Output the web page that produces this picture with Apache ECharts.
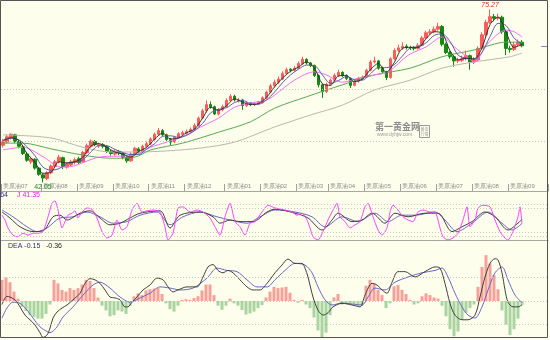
<!DOCTYPE html>
<html><head><meta charset="utf-8">
<script src="https://cdn.jsdelivr.net/npm/echarts@6/dist/echarts.min.js"></script>
<style>html,body{margin:0;padding:0;background:#fefeec;}#c{width:550px;height:340px;}</style>
</head><body><div id="c"></div>
<script>
// ---------- DATA ----------
const monthLabels = ['美原油07','美原油08','美原油09','美原油10','美原油11','美原油12','美原油01','美原油02','美原油03','美原油04','美原油05','美原油06','美原油07','美原油08','美原油09'];
const monthStartIdx = [0,10,19,28,37,46,56,65,74,82,91,100,109,118,127];
// [open, close, low, high]
const candles = [
[49.2,49.8,48.8,50.4],[49.8,50.8,49.5,51.2],[50.7,51.3,50.3,51.5],[51.2,49.9,49.6,51.4],[49.9,49.0,48.6,50.3],
[48.9,47.6,47.3,49.2],[47.5,46.3,46.0,47.8],[46.0,46.6,45.6,47.0],[46.5,44.8,44.5,46.7],[44.8,43.6,43.3,45.0],
[43.5,42.9,42.05,43.8],[42.8,43.9,42.5,44.2],[43.9,45.2,43.6,45.5],[45.1,46.0,44.8,46.4],[46.0,46.9,45.7,47.3],
[46.8,45.1,44.6,47.0],[45.0,45.5,44.7,45.9],[45.4,46.0,45.1,46.4],[45.9,46.4,45.5,46.8],[46.6,45.9,45.6,47.0],
[46.0,47.8,45.8,48.1],[47.8,49.1,47.5,49.5],[49.0,50.0,48.7,50.3],[49.9,49.3,49.0,50.2],[49.1,49.3,48.7,49.7],
[49.3,49.0,48.6,49.6],[48.9,48.0,47.7,49.2],[48.0,47.6,47.2,48.3],[47.5,48.0,47.2,48.4],[48.0,47.7,47.3,48.3],
[47.6,46.9,46.5,47.9],[46.8,46.2,45.8,47.1],[46.2,47.5,46.0,47.8],[47.5,48.6,47.3,48.9],[48.5,47.9,47.6,48.8],
[47.9,49.0,47.7,49.3],[49.0,49.5,48.7,49.9],[49.5,50.4,49.2,50.7],[50.3,51.3,50.1,51.6],[51.3,52.0,51.0,52.5],
[52.0,51.2,50.9,52.3],[51.2,50.3,50.0,51.4],[50.3,49.8,49.2,50.6],[49.8,50.7,49.6,51.0],[50.7,51.4,50.4,51.7],
[51.3,51.6,51.0,52.0],[51.5,51.8,51.2,52.2],[51.8,52.2,51.5,52.6],[52.2,53.0,52.0,53.4],[53.0,54.4,52.8,54.7],
[54.4,55.8,54.2,56.2],[55.8,57.0,55.5,57.8],[57.0,56.6,56.2,57.6],[56.6,55.2,55.0,56.8],[55.2,56.0,54.9,56.3],
[56.0,56.6,55.7,57.0],[56.6,57.8,56.4,58.2],[57.8,58.6,57.5,59.0],[58.6,57.9,57.6,58.9],[57.8,57.9,57.4,58.3],
[57.9,56.8,56.0,58.1],[56.8,57.3,56.5,57.7],[57.3,57.0,56.7,57.5],[57.0,57.1,56.7,57.4],[57.1,57.4,56.9,57.7],
[57.4,58.3,57.2,58.6],[58.3,59.4,58.1,59.7],[59.4,60.6,59.2,61.0],[60.6,61.3,60.3,61.8],[61.3,61.9,61.0,62.4],
[61.9,63.0,61.7,63.4],[63.0,63.7,62.7,64.1],[63.8,63.6,63.2,64.0],[63.6,64.0,63.3,64.4],[64.0,64.9,63.8,65.3],
[64.9,65.7,64.6,66.2],[65.7,65.0,64.7,65.9],[65.0,64.5,64.2,65.2],[64.5,62.6,62.3,64.7],[62.6,60.8,60.3,62.8],
[60.8,59.5,58.3,61.0],[59.5,60.9,59.2,61.2],[60.9,61.7,60.6,62.0],[61.7,62.6,61.4,63.0],[62.6,63.2,62.3,63.7],
[63.2,62.6,62.3,63.4],[62.6,62.0,61.7,62.8],[62.0,60.7,60.2,62.2],[60.7,61.5,60.5,61.8],[61.5,62.0,61.2,62.3],
[62.0,62.3,61.7,62.6],[62.3,63.6,62.1,63.9],[63.6,65.2,63.4,65.6],[65.2,65.4,64.9,66.2],[65.4,64.0,63.7,65.6],
[64.0,63.3,63.0,64.3],[63.3,62.2,61.7,63.5],[62.2,65.8,62.0,66.1],[65.8,67.4,65.5,67.8],[67.4,67.9,67.1,68.5],
[67.9,68.2,67.5,69.0],[68.2,68.0,67.6,68.6],[68.0,67.9,67.5,68.3],[67.9,67.8,67.4,68.2],[67.8,68.4,67.6,68.8],
[68.4,69.8,68.2,70.2],[69.8,70.8,69.5,71.2],[70.8,71.0,70.4,71.5],[71.0,71.5,70.7,72.0],[71.5,72.0,71.2,72.7],
[72.0,68.6,68.2,72.3],[68.6,67.0,66.7,68.9],[67.0,66.2,65.8,67.3],[66.2,65.4,64.3,66.5],[65.4,65.5,65.0,66.0],
[65.5,65.8,65.2,66.4],[65.8,66.4,65.5,67.4],[66.4,65.2,63.7,66.6],[65.2,65.6,64.8,66.1],[65.6,67.8,65.4,68.2],
[67.8,70.4,67.5,70.9],[70.4,72.8,70.1,73.3],[72.8,73.9,72.5,75.27],[73.9,73.6,73.0,74.4],[73.6,73.8,73.2,74.5],
[73.8,71.0,70.6,74.1],[71.0,67.8,66.5,71.3],[67.8,67.6,67.0,68.3],[67.6,68.5,67.3,69.0],[68.5,69.0,68.1,69.5],
[69.0,68.3,68.0,69.4]
];
// moving averages: [candle index, price]
const ma5 = [[0,50.0],[2,50.6],[4,50.1],[6,47.6],[8,45.9],[10,43.8],[12,44.0],[14,46.0],[16,45.8],[18,46.0],[20,46.9],[22,49.0],[24,49.5],[26,48.8],[28,47.9],[30,47.5],[32,46.9],[34,48.0],[36,48.8],[38,50.4],[40,51.5],[42,50.4],[44,50.6],[46,51.6],[48,52.3],[50,54.4],[52,56.5],[54,55.9],[56,56.8],[58,58.1],[60,57.5],[62,57.0],[64,57.2],[66,58.4],[68,60.4],[70,62.1],[72,63.4],[74,64.2],[76,65.2],[78,64.0],[80,61.0],[82,60.7],[84,62.5],[86,62.6],[88,61.4],[90,61.9],[92,63.7],[94,64.9],[96,63.2],[98,65.1],[100,67.8],[102,68.0],[104,68.0],[106,69.7],[108,71.0],[110,70.7],[112,67.3],[114,65.6],[116,65.9],[118,65.8],[120,68.0],[122,72.4],[124,73.8],[126,70.9],[128,68.0],[130,68.6]];
const ma10 = [[0,50.2],[2,50.6],[4,50.2],[6,48.9],[8,47.2],[10,45.0],[12,44.4],[14,44.7],[16,45.7],[18,46.0],[20,46.4],[22,47.9],[24,49.1],[26,49.1],[28,48.4],[30,47.8],[32,47.4],[34,47.4],[36,48.5],[38,49.5],[40,50.9],[42,51.0],[44,50.7],[46,51.1],[48,52.0],[50,53.4],[52,55.4],[54,56.1],[56,56.4],[58,57.4],[60,57.8],[62,57.2],[64,57.1],[66,57.9],[68,59.4],[70,61.2],[72,62.7],[74,63.8],[76,64.6],[78,64.5],[80,62.7],[82,61.1],[84,61.6],[86,62.4],[88,61.8],[90,61.7],[92,62.9],[94,64.1],[96,64.1],[98,64.7],[100,66.3],[102,67.9],[104,68.1],[106,68.9],[108,70.3],[110,70.6],[112,69.1],[114,66.5],[116,65.9],[118,65.7],[120,67.1],[122,70.1],[124,72.6],[126,72.2],[128,69.8],[130,68.6]];
const ma20 = [[0,48.3],[5,48.8],[10,47.0],[14.5,45.0],[16,45.0],[24,46.9],[33,47.3],[37,48.8],[41,49.8],[45,50.8],[49.5,52.7],[54,54.4],[58,56.5],[62,57.3],[66,57.9],[68,58.8],[73,61.7],[78,63.3],[81,62.7],[85,61.3],[89,62.1],[93,62.7],[96.5,63.3],[101.5,66.5],[106,68.1],[110,70.0],[113,68.1],[116.5,66.0],[118,65.2],[121.5,68.8],[126,71.3],[128,71.0],[130,70.0]];
const ma60 = [[0,49.6],[5,49.6],[12,48.5],[20,47.3],[27,46.7],[33,46.9],[37,48.3],[45,49.6],[54,51.7],[62,53.7],[68,56.3],[76,58.5],[85,60.8],[93,62.7],[102,64.0],[110,66.2],[118,67.5],[126,69.0],[130,69.0]];
const ma120 = [[0,51.2],[12,50.6],[20,48.8],[27,47.9],[33,47.9],[41,48.1],[50,48.7],[58,49.8],[66,52.1],[68,52.7],[77,55.0],[85,56.9],[93,59.8],[102,61.7],[110,64.0],[118,65.2],[127,66.2],[130,66.9]];
// KDJ: [candle index, value]
const kLine = [[0,70],[2,55],[4.5,33],[7.75,21],[10.25,23],[12.75,58],[14.5,62],[16.25,50],[19.5,67],[22,73],[24.5,55],[27,38],[29.5,42],[32,55],[34.5,67],[39.5,73],[42,30],[44.5,62],[49.5,70],[52.75,58],[54.5,42],[57,50],[59.5,46],[62.75,46],[66.25,70],[68.25,77],[73.25,67],[76.5,55],[80,25],[82.5,50],[84,67],[87.5,46],[90,50],[92.5,67],[95.75,42],[98.25,67],[101.5,58],[105.75,67],[109,67],[112.5,21],[115,33],[117.5,46],[120.75,70],[123.25,58],[126.5,25],[129,42],[130,52]];
const dLine = [[0,75],[2.75,58],[6.25,33],[8.75,21],[11.25,30],[14.5,55],[17.75,58],[21.25,70],[24.5,58],[27.75,42],[31.25,46],[34.5,62],[38.75,70],[42,38],[45.25,58],[49.5,70],[53.75,58],[57,50],[61.25,42],[64.5,58],[68.25,75],[73.25,70],[77.5,58],[80.75,33],[85,58],[89,46],[93.25,67],[96.5,46],[100,62],[103.25,62],[108.25,70],[110.75,50],[113.75,21],[117.5,42],[121.5,70],[125,42],[127.5,25],[130,41.64]];
const jLine = [[0,62],[0.75,50],[1.5,30],[2.75,12],[4,8],[5.25,17],[6.5,12],[7.75,17],[9,17],[10.25,21],[11.5,58],[12.5,92],[13.25,98],[14,75],[15,30],[15.75,46],[16.5,62],[17.5,67],[18.25,73],[19,55],[20,70],[21.25,80],[22.5,77],[23.75,55],[25,21],[26.25,5],[27.5,12],[28.75,50],[30,25],[31.25,33],[32.5,75],[33.75,92],[35,70],[36.25,73],[37.75,75],[39.5,70],[40.75,33],[41.5,0],[42.75,17],[44,80],[45.25,83],[47,70],[48.75,75],[50.25,70],[52,55],[53.25,33],[54.5,12],[55.75,58],[57,92],[58.25,46],[59.5,33],[60.75,12],[62,42],[63.25,46],[65,70],[66.5,87],[68.25,80],[70.75,75],[72.5,70],[73.75,62],[75,67],[76.25,50],[77,30],[77.75,8],[79,0],[80.25,21],[81.5,50],[82.75,75],[83.75,92],[84.5,58],[85.75,46],[87,30],[88.25,38],[89.5,46],[90.75,83],[91.5,92],[92.75,58],[94,25],[95,12],[96.25,30],[97,70],[97.75,87],[99,75],[100.25,58],[101.5,50],[102.75,46],[104,70],[105.25,75],[107,70],[108.25,70],[109.5,30],[110.25,8],[111.5,0],[112.75,5],[114,17],[115.25,50],[116.25,83],[117,33],[118.25,50],[119,80],[120.25,87],[122,83],[123.25,50],[124.5,21],[125.75,5],[126.5,0],[127.75,21],[129,58],[129.5,83],[130,41.35]];
// MACD
const macdHist = [1.8,2.0,1.6,0.8,0.2,-0.5,-0.85,-1.2,-1.35,-1.5,-1.5,-1.1,-0.3,1.8,1.5,0.94,0.8,1.1,0.95,1.1,1.4,1.8,1.7,1.1,0.3,-0.4,-0.8,-1.3,-1.2,-0.8,-0.9,-1.1,-0.4,0.4,0.65,0.5,0.9,1.0,1.05,1.1,0.6,-0.2,-0.7,-0.9,-0.4,0.1,0.15,0.1,0.25,0.4,0.9,1.4,1.4,0.5,-0.4,-0.75,-0.4,0.2,-0.2,-0.4,-0.77,-1.15,-1.05,-0.9,-0.6,-0.35,0.3,0.8,1.2,1.1,1.15,1.2,0.7,0.1,-0.15,0.1,-0.3,-0.6,-1.4,-2.5,-3.1,-2.7,-1.2,0.3,0.6,-0.3,-0.2,-0.25,-0.3,-0.45,-0.4,1.3,1.8,1.5,0.95,0.5,-0.6,-0.2,1.25,1.35,0.95,0.6,0.1,-0.3,-0.2,0.4,0.65,0.5,0.3,0.2,-0.4,-1.3,-2.4,-3.0,-2.6,-1.6,-1.0,-0.6,-0.3,1.2,2.9,3.9,3.2,2.2,1.0,-0.8,-2.0,-2.9,-2.4,-1.5,-0.36];
const dif = [[0,-0.3],[1.25,0.4],[3.25,0.1],[4.5,-0.5],[5.75,-1.2],[7,-1.6],[8.25,-2.04],[9.5,-2.7],[10.25,-3.1],[11.25,-2.9],[12,-2.3],[12.75,-1.45],[13.75,-0.94],[15,-0.6],[16.25,-0.34],[17.75,0.1],[19.5,0.66],[20.75,1.5],[22,1.9],[23.25,1.8],[24.5,1.5],[25.75,0.94],[27,0.34],[28.25,0.26],[29.5,0.1],[30.75,-0.5],[31.5,-0.5],[32.5,-0.1],[33.75,0.34],[35.25,0.94],[37,1.36],[38.75,1.95],[40.25,1.8],[41.5,1.2],[42.75,0.77],[44,0.94],[46.25,1.2],[48.75,1.2],[50.25,2.04],[51.5,2.9],[52.75,3.1],[54,2.6],[55.25,2.4],[56.5,2.6],[57.75,2.4],[59.5,1.8],[61.25,1.2],[62.75,0.94],[64.5,0.94],[66.25,1.5],[68.25,2.4],[70,3.06],[71.5,3.57],[73.25,3.2],[75,3.2],[75.75,2.8],[76.5,2.04],[77.75,0.34],[79,-0.77],[80.25,-1.2],[81.5,-1.0],[82.75,-0.5],[85,-0.2],[87.5,-0.34],[89.5,-0.5],[90.75,0.5],[92.5,1.5],[93.75,1.36],[95,0.94],[96.25,0.66],[97.5,1.6],[99,2.5],[100.75,2.5],[103.25,2.04],[105.75,2.5],[108.25,2.9],[109.5,2.8],[110.75,1.5],[112,-0.2],[113.25,-1.2],[115,-1.6],[116.5,-1.6],[118.25,-1.2],[119.5,0.34],[120.75,2.04],[122,3.2],[123.25,3.6],[124,3.5],[125,2.4],[125.75,0.94],[126.5,-0.1],[127.75,-0.5],[129,-0.5],[130,-0.33]];
const dea = [[0,-1.45],[1.25,-0.6],[2.75,-0.1],[4.5,-0.2],[6.25,-0.77],[7.75,-1.45],[9.5,-2.2],[11.25,-2.6],[12,-2.7],[13.75,-2.2],[15.25,-1.36],[17.75,-0.5],[20.25,0.5],[22.75,1.36],[24.5,1.6],[27,1.1],[29.5,0.34],[32,-0.1],[34.5,0.26],[37,0.66],[39.5,1.2],[42,1.1],[44.5,0.94],[47.75,1.1],[51.25,1.95],[53.75,2.8],[56.25,2.6],[58.75,2.5],[61.25,1.8],[63.75,1.2],[66.25,1.2],[68.25,1.8],[70.75,2.6],[73.25,3.2],[75.75,3.06],[77.5,2.4],[79,1.2],[80.75,0.1],[82.5,-0.34],[85,-0.17],[87.5,-0.26],[90,-0.34],[91.5,0.34],[93.25,1.1],[95.75,0.94],[98.25,1.6],[101.5,2.04],[105,2.4],[108.25,2.6],[110,2.8],[111.5,2.04],[113.25,0.66],[115,-0.5],[116.5,-1.2],[118.25,-1.45],[120,-0.5],[121.5,0.94],[123.25,2.4],[125,2.9],[126.5,1.8],[128.25,0.5],[130,-0.15]];
const lastClose = 68.3;

// ---------- CHART ----------
const N = 137;
const categories = Array.from({length: N}, (_, i) => String(i));
const labelAt = {};
monthStartIdx.forEach((v, k) => { labelAt[v] = monthLabels[k]; });
const isMonth = (i) => labelAt[i] !== undefined;
const FONT = 'Liberation Sans, Arial, sans-serif';
const dotted = (vals, color) => ({
  silent: true, symbol: 'none', label: {show: false},
  lineStyle: {color: color || '#c9c9bb', type: [1, 2], width: 1},
  data: vals.map(v => ({yAxis: v}))
});
const line = (data, color, xi, yi, extra) => Object.assign({
  type: 'line', data, xAxisIndex: xi, yAxisIndex: yi, symbol: 'none', smooth: 0.3,
  lineStyle: {color, width: 1}, itemStyle: {color}, silent: true
}, extra || {});

const chart = echarts.init(document.getElementById('c'), null, {renderer: 'canvas'});
chart.setOption({
  animation: false,
  backgroundColor: '#fefeec',
  grid: [
    {left: 0, top: 0, width: 548, height: 191},
    {left: 0, top: 192, width: 548, height: 48},
    {left: 0, top: 250, width: 548, height: 88}
  ],
  xAxis: [
    {type: 'category', gridIndex: 0, data: categories, boundaryGap: true,
     axisLine: {lineStyle: {color: '#a8a8a0'}},
     axisTick: {show: true, inside: true, length: 7, interval: (i) => isMonth(i), lineStyle: {color: '#a0a0a0'}},
     axisLabel: {inside: true, interval: (i) => isMonth(i), formatter: (v, i) => labelAt[i] || '', align: 'left', margin: 2, fontSize: 6, color: '#8a8a8a', fontFamily: FONT},
     splitLine: {show: false}},
    {type: 'value', gridIndex: 0, min: -0.5, max: N - 0.5, show: false},
    {type: 'value', gridIndex: 1, min: -0.5, max: N - 0.5, show: true,
     axisLine: {show: true, lineStyle: {color: '#a8a8a0'}}, axisTick: {show: false}, axisLabel: {show: false}, splitLine: {show: false}},
    {type: 'category', gridIndex: 2, data: categories, show: false},
    {type: 'value', gridIndex: 2, min: -0.5, max: N - 0.5, show: false}
  ],
  yAxis: [
    {type: 'value', gridIndex: 0, min: 40.4, max: 77.1, show: false, scale: true},
    {type: 'value', gridIndex: 1, min: 0, max: 120, show: false},
    {type: 'value', gridIndex: 2, min: -3.15, max: 4.34, show: false}
  ],
  graphic: [
    {type: 'rect', z: 100, silent: true, shape: {x: 0.5, y: 0.5, width: 547, height: 337}, style: {fill: 'none', stroke: '#555', lineWidth: 1}},
    {type: 'text', x: 8, y: 195, z: 100, style: {text: 'D 41.64', fill: '#2c2c90', font: '7px ' + FONT, textAlign: 'right', textVerticalAlign: 'middle'}},
    {type: 'text', x: 17, y: 195, z: 100, style: {text: 'J 41.35', fill: '#e020e0', font: '7px ' + FONT, textVerticalAlign: 'middle'}},
    {type: 'text', x: 8, y: 246, z: 100, style: {text: 'DEA -0.15', fill: '#2c2c90', font: '7px ' + FONT, textVerticalAlign: 'middle'}},
    {type: 'text', x: 46, y: 246, z: 100, style: {text: '-0.36', fill: '#222', font: '7px ' + FONT, textVerticalAlign: 'middle'}},
    {type: 'text', x: 375, y: 127, z: 100, style: {text: '第一黄金网', fill: '#8c8c8c', font: 'bold 9px "Noto Sans CJK SC", sans-serif', textVerticalAlign: 'middle'}},
    {type: 'text', x: 377, y: 135, z: 100, style: {text: 'www.dyhjw.com', fill: '#9a9a9a', font: '5px ' + FONT, textVerticalAlign: 'middle'}},
    {type: 'rect', z: 100, shape: {x: 419.5, y: 125.5, width: 10, height: 12}, style: {fill: 'none', stroke: '#9a9a9a', lineWidth: 1}},
    {type: 'text', x: 424.5, y: 131.5, z: 100, style: {text: '黄金\n行情', fill: '#9a9a9a', font: '4px "Noto Sans CJK SC", sans-serif', textAlign: 'center', textVerticalAlign: 'middle', lineHeight: 5}}
  ],
  series: [
    {type: 'candlestick', xAxisIndex: 0, yAxisIndex: 0, data: candles, barWidth: 3, silent: true,
     itemStyle: {color: '#ff5b5b', color0: '#128a12', borderColor: '#ff5b5b', borderColor0: '#128a12', borderWidth: 1},
     markPoint: {symbol: 'circle', symbolSize: 0, silent: true,
       data: [
         {type: 'max', valueDim: 'highest', label: {show: true, position: 'inside', offset: [0, -4], formatter: (p) => p.value.toFixed(2), color: '#e02828', fontSize: 7, fontStyle: 'italic', fontFamily: FONT}},
         {type: 'min', valueDim: 'lowest', label: {show: true, position: 'inside', offset: [0, 4.5], formatter: (p) => p.value.toFixed(2), color: '#2a8a2a', fontSize: 7, fontFamily: FONT}}
       ]},
     markLine: dotted([50, 60])},
    line(ma120, '#b8b8b0', 1, 0),
    line(ma60, '#58a858', 1, 0),
    line(ma20, '#f070f0', 1, 0),
    line(ma10, '#5a5ab8', 1, 0),
    line(ma5, '#303030', 1, 0, {markLine: {silent: true, symbol: 'none', label: {show: false}, lineStyle: {color: '#8080c8', type: 'solid', width: 1},
      data: [[{coord: [134.8, lastClose]}, {coord: [136.5, lastClose]}]]}}),
    line(dLine, '#6868c8', 2, 1, {markLine: dotted([90, 80, 20, 10])}),
    line(kLine, '#404040', 2, 1),
    line(jLine, '#ff40ff', 2, 1, {smooth: 0.2, clip: false}),
    {type: 'bar', xAxisIndex: 3, yAxisIndex: 2, data: macdHist, barCategoryGap: '25%', silent: true,
     itemStyle: {color: (p) => p.value >= 0 ? '#f5a098' : '#a8d4a0'},
     markLine: dotted([2, 0, -2])},
    line(dea, '#6868c8', 4, 2),
    line(dif, '#404040', 4, 2)
  ]
});
</script></body></html>
